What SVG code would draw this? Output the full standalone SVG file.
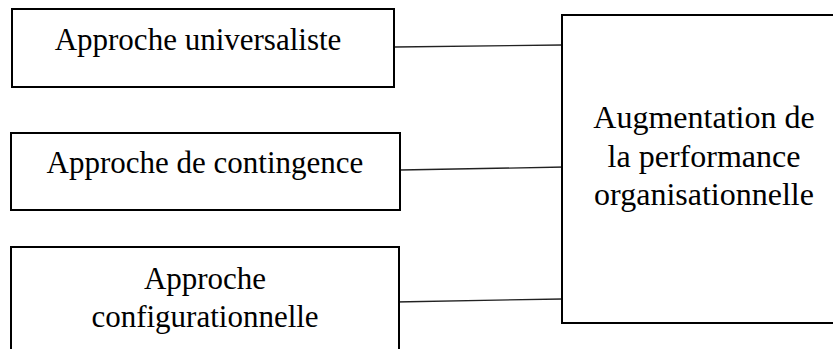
<svg xmlns="http://www.w3.org/2000/svg" width="833" height="349" viewBox="0 0 833 349">
<style>
.box{fill:#fff;stroke:#000;stroke-width:2}
.t{font-family:"Liberation Serif","Times New Roman",serif;font-size:31px;fill:#000;text-anchor:middle}
.big{font-size:32px}
.c{stroke:#222;stroke-width:1.3;fill:none}
</style>
<rect width="833" height="349" fill="#fff"/>
<g id="connectors">
<line class="c" x1="395" y1="47" x2="562" y2="45"/>
<line class="c" x1="400" y1="170" x2="565" y2="167"/>
<line class="c" x1="395" y1="302" x2="562" y2="299"/>
</g>
<g id="n1">
<rect class="box" x="12" y="9" width="382" height="78"/>
<text class="t" x="198" y="50">Approche universaliste</text>
</g>
<g id="n2">
<rect class="box" x="11" y="133" width="389" height="77"/>
<text class="t" x="205" y="173">Approche de contingence</text>
</g>
<g id="n3">
<rect class="box" x="11" y="247" width="388" height="110"/>
<text class="t" x="205" y="289">Approche</text>
<text class="t" x="205" y="327">configurationnelle</text>
</g>
<g id="n4">
<rect class="box" x="562" y="15" width="290" height="308"/>
<text class="t big" x="704" y="128">Augmentation de</text>
<text class="t big" x="704" y="167">la performance</text>
<text class="t big" x="704" y="205">organisationnelle</text>
</g>
</svg>
